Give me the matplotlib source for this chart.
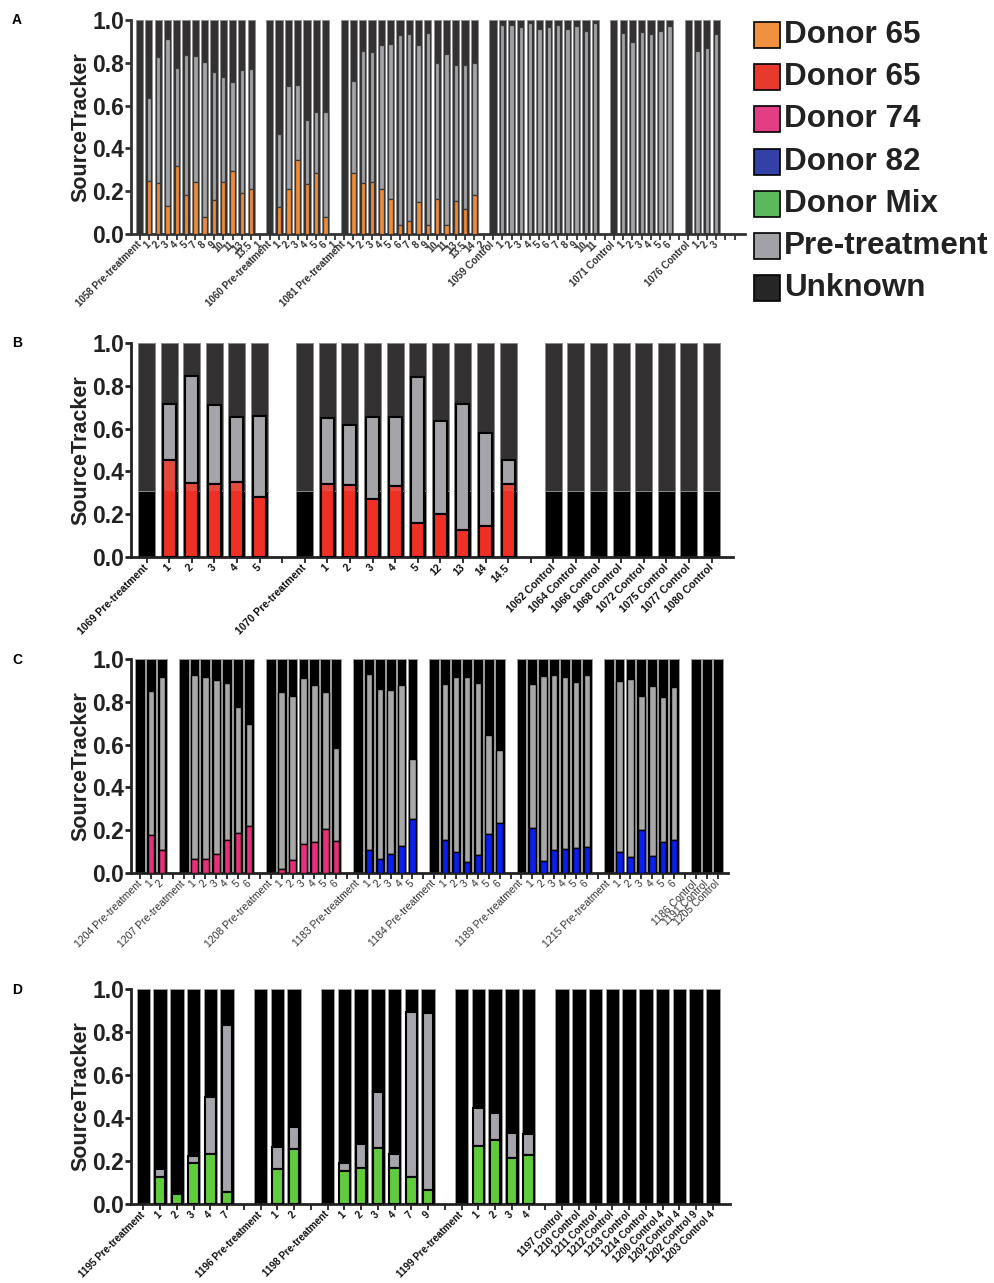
import numpy as np
import matplotlib
matplotlib.use('Agg')
import matplotlib.pyplot as plt
from matplotlib.patches import Rectangle

plt.rcParams['font.family'] = ['Liberation Sans', 'DejaVu Sans']

W, H = 994, 1283
nan = np.nan

# ---------------- Panel A (Donor 65, orange) ----------------
a_labels = (['1058 Pre-treatment', '1', '2', '3', '4', '5', '7', '8', '9', '10', '11', '13', '13.5'] + ['1'] +
            ['1060 Pre-treatment', '1', '2', '3', '4', '5', '6'] + ['1'] +
            ['1081 Pre-treatment', '1', '2', '3', '4', '5', '6', '7', '8', '9', '10', '11', '13', '13.5', '14'] + ['2'] +
            ['1059 Control', '1', '2', '3', '4', '5', '6', '7', '8', '9', '10', '11'] + [''] +
            ['1071 Control', '1', '2', '3', '4', '5', '6'] + [''] +
            ['1076 Control', '1', '2', '3'] + ['', ''])
a_donor = ([0, .25, .24, .13, .32, .18, .245, .08, .16, .245, .295, .19, .21] + [nan] +
           [0, .125, .21, .345, .235, .285, .08] + [nan] +
           [0, .285, .24, .245, .21, .165, .04, .06, .15, .04, .165, .04, .155, .115, .18] + [nan] +
           [0] * 12 + [nan] + [0] * 7 + [nan] + [0] * 4 + [nan, nan])
a_pre = ([0, .385, .585, .78, .455, .655, .585, .725, .595, .49, .415, .575, .56] + [nan] +
         [0, .34, .48, .35, .30, .285, .49] + [nan] +
         [0, .43, .615, .605, .675, .725, .89, .875, .735, .90, .635, .80, .635, .675, .62] + [nan] +
         [0, .977, .977, .967, .984, .96, .967, .975, .96, .972, .947, .988] + [nan] +
         [0, .94, .897, .942, .936, .949, .974] + [nan] +
         [0, .855, .871, .935] + [nan, nan])

# ---------------- Panel B (Donor 65, red) ----------------
b_labels = (['1069 Pre-treatment', '1', '2', '3', '4', '5'] + [''] +
            ['1070 Pre-treatment', '1', '2', '3', '4', '5', '12', '13', '14', '14.5'] + [''] +
            ['1062 Control', '1064 Control', '1066 Control', '1068 Control',
             '1072 Control', '1075 Control', '1077 Control', '1080 Control'])
b_donor = ([0, .455, .345, .34, .35, .28] + [nan] +
           [0, .34, .335, .27, .33, .16, .20, .125, .145, .34] + [nan] + [0] * 8)
b_pre = ([0, .258, .503, .371, .306, .378] + [nan] +
         [0, .308, .284, .383, .322, .679, .434, .589, .433, .112] + [nan] + [0] * 8)

# ---------------- Panel C (Donor 74 pink / Donor 82 blue) ----------------
c_labels = (['1204 Pre-treatment', '1', '2'] + [''] +
            ['1207 Pre-treatment', '1', '2', '3', '4', '5', '6'] + [''] +
            ['1208 Pre-treatment', '1', '2', '3', '4', '5', '6'] + [''] +
            ['1183 Pre-treatment', '1', '2', '3', '4', '5'] + [''] +
            ['1184 Pre-treatment', '1', '2', '3', '4', '5', '6'] + [''] +
            ['1189 Pre-treatment', '1', '2', '3', '4', '5', '6'] + [''] +
            ['1215 Pre-treatment', '1', '2', '3', '4', '5', '6'] + [''] +
            ['1186 Control', '1191 Control', '1205 Control'])
c_source = (['Donor 74'] * 3 + [''] + ['Donor 74'] * 7 + [''] + ['Donor 74'] * 7 + [''] +
            ['Donor 82'] * 6 + [''] + ['Donor 82'] * 7 + [''] + ['Donor 82'] * 7 + [''] +
            ['Donor 82'] * 7 + [''] + ['Donor 82'] * 3)
c_donor = ([0, .176, .109] + [nan] +
           [0, .064, .064, .09, .153, .187, .218] + [nan] +
           [0, .02, .062, .137, .145, .204, .15] + [nan] +
           [0, .106, .067, .09, .126, .251] + [nan] +
           [0, .153, .098, .051, .083, .184, .234] + [nan] +
           [0, .212, .056, .106, .114, .119, .122] + [nan] +
           [0, .098, .075, .20, .078, .144, .153] + [nan] + [0] * 3)
c_pre = ([0, .676, .808] + [nan] +
         [0, .861, .853, .812, .736, .587, .476] + [nan] +
         [0, .824, .766, .773, .733, .643, .432] + [nan] +
         [0, .822, .793, .765, .752, .284] + [nan] +
         [0, .728, .819, .863, .803, .46, .34] + [nan] +
         [0, .669, .863, .819, .803, .775, .803] + [nan] +
         [0, .799, .831, .628, .796, .68, .718] + [nan] + [0] * 3)

# ---------------- Panel D (Donor Mix, green) ----------------
d_labels = (['1195 Pre-treatment', '1', '2', '3', '4', '7'] + [''] +
            ['1196 Pre-treatment', '1', '2'] + [''] +
            ['1198 Pre-treatment', '1', '2', '3', '4', '7', '9'] + [''] +
            ['1199 Pre-treatment', '1', '2', '3', '4'] + [''] +
            ['1197 Control', '1210 Control', '1211 Control', '1212 Control', '1213 Control',
             '1214 Control', '1200 Control 4', '1202 Control 4', '1202 Control 9', '1203 Control 4'])
d_donor = ([0, .124, .047, .189, .231, .054] + [nan] +
           [0, .161, .257] + [nan] +
           [0, .153, .167, .26, .166, .127, .064] + [nan] +
           [0, .271, .296, .212, .226] + [nan] + [0] * 10)
d_pre = ([0, .039, 0, .036, .265, .777] + [nan] +
         [0, .103, .103] + [nan] +
         [0, .039, .112, .259, .065, .766, .823] + [nan] +
         [0, .177, .129, .12, .10] + [nan] + [0] * 10)

# ---------------- Legend ----------------
legend_labels = ['Donor 65', 'Donor 65', 'Donor 74', 'Donor 82', 'Donor Mix', 'Pre-treatment', 'Unknown']
legend_colors = ['#f0913f', '#e8392d', '#e23d85', '#3340a6', '#5cb85c', '#a2a2a6', '#262626']

fig = plt.figure(figsize=(W / 100, H / 100), dpi=100)


def draw_panel(rect, xlim, labels, donor, pre, donor_colors, unknown_col, gray_col,
               outer_w, inner_w, outer_edge, inner_edge, inner_lw, lab_weight, lab_color,
               lab_size, spine_col, shade=None, light_red=None):
    ax = fig.add_axes([rect[0] / W, 1 - rect[1] / H, rect[2] / W, rect[3] / H])
    donor = np.array(donor, float)
    pre = np.array(pre, float)
    x = np.arange(len(labels))
    valid = ~np.isnan(donor)
    unknown = 1 - donor - pre
    total = donor + pre + unknown
    ax.bar(x[valid], total[valid], width=outer_w, color=unknown_col,
           edgecolor=outer_edge, linewidth=0.7, zorder=1)
    if shade is not None:
        ax.bar(x[valid], np.minimum(total[valid], shade), width=outer_w, color='black',
               edgecolor=outer_edge, linewidth=0.7, zorder=1.5)
    pm = valid & (pre > 0)
    ax.bar(x[pm], pre[pm], bottom=donor[pm], width=inner_w, color=gray_col,
           edgecolor=inner_edge, linewidth=inner_lw, zorder=2)
    dm = valid & (donor > 0)
    dcols = np.array(donor_colors, dtype=object)
    if shade is None:
        ax.bar(x[dm], donor[dm], width=inner_w, color=list(dcols[dm]),
               edgecolor=inner_edge, linewidth=inner_lw, zorder=3)
    else:
        low = np.minimum(donor, shade)
        ax.bar(x[dm], low[dm], width=inner_w, color=list(dcols[dm]),
               edgecolor='none', linewidth=0, zorder=3)
        up = valid & (donor > shade)
        ax.bar(x[up], donor[up] - shade, bottom=shade, width=inner_w, color=light_red,
               edgecolor='none', linewidth=0, zorder=3)
        ax.bar(x[dm], donor[dm], width=inner_w, color='none',
               edgecolor=inner_edge, linewidth=inner_lw, zorder=3.5)
    ax.set_xlim(*xlim)
    ax.set_ylim(0, 1)
    ax.set_yticks([0, .2, .4, .6, .8, 1.0])
    ax.set_yticklabels(['0.0', '0.2', '0.4', '0.6', '0.8', '1.0'], fontsize=16.5,
                       fontweight='bold', color='#222222')
    ax.set_xticks(x)
    ax.set_xticklabels(labels, rotation=45, ha='right', va='center', rotation_mode='anchor',
                       fontsize=lab_size, fontweight=lab_weight, color=lab_color)
    ax.tick_params(axis='y', direction='out', length=4, width=2, pad=1, colors=spine_col)
    ax.tick_params(axis='y', labelcolor='#222222')
    ax.tick_params(axis='x', direction='out', length=4, width=1.3, pad=2.5, colors=spine_col)
    ax.tick_params(axis='x', labelcolor=lab_color)
    for s in ['top', 'right']:
        ax.spines[s].set_visible(False)
    for s in ['left', 'bottom']:
        ax.spines[s].set_linewidth(2)
        ax.spines[s].set_color(spine_col)
    ax.set_ylabel('SourceTracker', fontsize=15.5, fontweight='bold', color='#222222')
    ax.yaxis.set_label_coords((91 - 131) / rect[2], 0.5)
    return ax


donor_col_map = {'Donor 74': '#e6307a', 'Donor 82': '#0b1ff0'}

# Panel A
draw_panel((131, 234, 614, 214), (-0.92, 65.1), a_labels, a_donor, a_pre,
           ['#f08b38'] * len(a_labels), '#333132', '#a3a3a7', 0.78, 0.48,
           '#8f8f8f', '#3a3a3a', 0.9, 'bold', '#333333', 7.0, '#333333')
# Panel B
draw_panel((131, 557, 602, 214), (-0.686, 25.95), b_labels, b_donor, b_pre,
           ['#ee3124'] * len(b_labels), '#333132', '#a4a4a9', 0.75, 0.57,
           '#8a8a8a', 'black', 1.5, 'bold', '#111111', 7.6, '#222222',
           shade=0.31, light_red='#e3493d')
# Panel C
draw_panel((131, 873, 597, 214), (-0.826, 53.95), c_labels, c_donor, c_pre,
           [donor_col_map.get(s, 'black') for s in c_source], 'black', '#a8a8a8', 0.9, 0.6,
           '#9a9a9a', 'black', 1.0, 'normal', '#333333', 7.5, '#222222')
# Panel D
draw_panel((131, 1204, 599, 215), (-0.74, 35.02), d_labels, d_donor, d_pre,
           ['#5fcc3c'] * len(d_labels), 'black', '#a6a5ab', 0.8, 0.62,
           '#9a9a9a', 'black', 1.5, 'bold', '#111111', 7.1, '#222222')

# panel letters
for letter, yy in zip(['A', 'B', 'C', 'D'], [20, 343, 660, 990]):
    fig.text(12 / W, 1 - yy / H, letter, fontsize=10, fontweight='bold', va='center', ha='left')

# legend
for i, (lab, col) in enumerate(zip(legend_labels, legend_colors)):
    yc = 35 + i * 42.2
    fig.add_artist(Rectangle((754 / W, 1 - (yc + 13) / H), 26 / W, 26 / H,
                             transform=fig.transFigure, facecolor=col, edgecolor='black',
                             linewidth=1.2))
    fig.text(784 / W, 1 - yc / H, lab, fontsize=22.6, fontweight='bold', va='center',
             ha='left', color='#222222')

fig.savefig('out.png', dpi=100)
